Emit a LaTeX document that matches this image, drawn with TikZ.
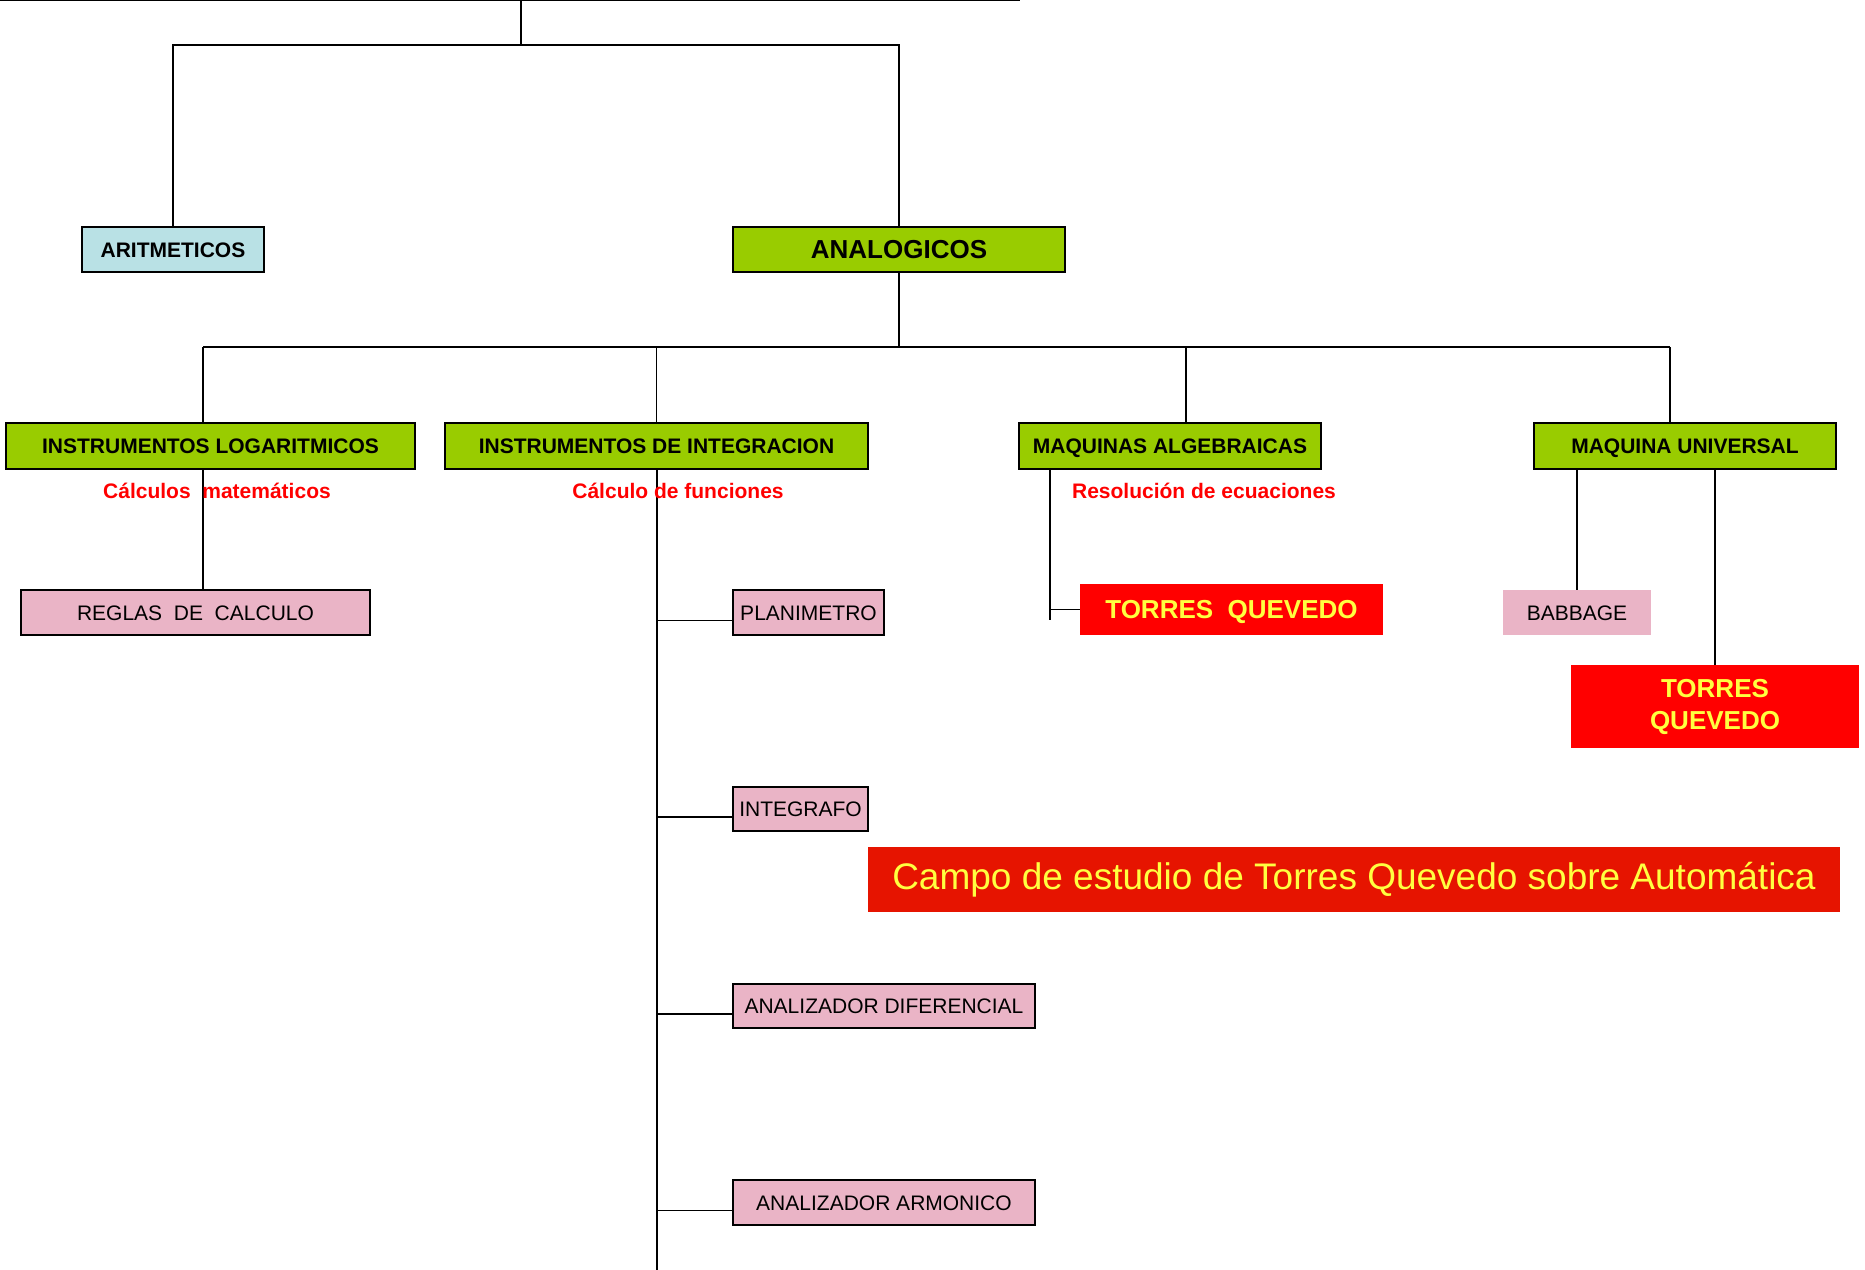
\documentclass[tikz,border=0pt]{standalone}
\usepackage{fontspec}
\setmainfont{Liberation Sans}
\definecolor{lima}{HTML}{99CC00}
\definecolor{celeste}{HTML}{B9E1E5}
\definecolor{rosa}{HTML}{EAB4C6}
\definecolor{rojo}{HTML}{FF0000}
\definecolor{rojocampo}{HTML}{E61400}
\definecolor{amarillo}{HTML}{FFFF40}
\begin{document}
\begin{tikzpicture}[x=0.5pt, y=-0.5pt,
	box/.style={draw, line width=0.8pt, inner sep=0pt, minimum height=22.5pt, text height=7.6pt, text depth=0pt, font=\fontsize{10.5}{12}\selectfont},
	greenbox/.style={box, fill=lima, font=\fontsize{10.5}{12}\selectfont\bfseries},
	pinkbox/.style={box, fill=rosa},
	tqbox/.style={inner sep=0pt, fill=rojo, text=amarillo, align=center, font=\fontsize{13}{16}\selectfont\bfseries},
	note/.style={text=rojo, inner sep=0pt, font=\fontsize{10.5}{12}\selectfont\bfseries},
	link/.style={line width=0.65pt}]
\useasboundingbox (0,0) rectangle (1865,1270);
	\node[box, fill=celeste, minimum width=91pt, font=\fontsize{10.5}{12}\selectfont\bfseries] (arit) at (173,249.5) {ARITMETICOS};
	\node[greenbox, minimum width=166pt, text height=9.4pt, font=\fontsize{13}{15}\selectfont\bfseries] (analog) at (899,249.5) {ANALOGICOS};
	\node[greenbox, minimum width=204.5pt, minimum height=23pt] (instlog) at (210.5,446) {INSTRUMENTOS LOGARITMICOS};
	\node[greenbox, minimum width=211.5pt, minimum height=23pt] (instint) at (656.5,446) {INSTRUMENTOS DE INTEGRACION};
	\node[greenbox, minimum width=151pt, minimum height=23pt] (maqalg) at (1170,446) {MAQUINAS ALGEBRAICAS};
	\node[greenbox, minimum width=151pt, minimum height=23pt] (maquniv) at (1685,446) {MAQUINA UNIVERSAL};
	\node[pinkbox, minimum width=174.5pt] (reglas) at (195.5,612.5) {REGLAS\ \ DE\ \ CALCULO};
	\node[pinkbox, minimum width=75.5pt] (plan) at (808.5,612.5) {PLANIMETRO};
	\node[pinkbox, minimum width=67.5pt, minimum height=22pt] (integ) at (800.5,809) {INTEGRAFO};
	\node[pinkbox, minimum width=151pt, minimum height=22pt] (anadif) at (884,1006) {ANALIZADOR DIFERENCIAL};
	\node[pinkbox, minimum width=151pt] (anaarm) at (884,1202.5) {ANALIZADOR ARMONICO};
	\node[tqbox, minimum width=151.5pt, minimum height=25.5pt, text height=9.4pt, text depth=0pt] (tq1) at (1231.5,609.5) {TORRES\ \ QUEVEDO};
	\node[inner sep=0pt, fill=rosa, minimum width=74pt, minimum height=22.5pt, text height=7.6pt, text depth=0pt, font=\fontsize{10.5}{12}\selectfont] (babbage) at (1577,612.5) {BABBAGE};
	\node[tqbox, minimum width=144pt, minimum height=41.5pt] (tq2) at (1715,706.5) {TORRES\\QUEVEDO};
	\node[inner sep=0pt, fill=rojocampo, text=amarillo, minimum width=486pt, minimum height=32.5pt, font=\fontsize{18.5}{22}\selectfont] (campo) at (1354,879.5) {Campo de estudio de Torres Quevedo sobre Automática};
	% upper levels
	\coordinate (topL) at (0,0);
	\coordinate (topR) at (1020,0);
	\coordinate (topM) at (521,0);
	\coordinate (bus1) at (521,45);
	\draw[link] (topL) -- (topR);
	\draw[link] (topM) -- (bus1);
	\draw[link] (arit.north) |- (bus1) -| (analog.north);
	\coordinate (busL) at (203,347);
	\coordinate (busR) at (1670,347);
	\coordinate (algdrop) at (1186,347);
	\draw[link] (analog.south) -- (analog.south |- busL);
	\draw[link] (busL) -- (busR);
	\draw[link] (busL) -- (busL |- instlog.north);
	\draw[link] (instint.north |- busL) -- (instint.north);
	\draw[link] (algdrop) -- (algdrop |- maqalg.north);
	\draw[link] (busR) -- (busR |- maquniv.north);
	% branches
	\draw[link] (busL |- instlog.south) -- (busL |- reglas.north);
	\coordinate (trunkend) at (657,1270);
	\draw[link] (instint.south -| trunkend) -- (trunkend);
	\foreach \n in {plan,integ,anadif,anaarm}
		\draw[link] ([yshift=-4pt]\n.west) -- ([yshift=-4pt]\n.west -| trunkend);
	\coordinate (algend) at (1050,620);
	\draw[link] (algend |- maqalg.south) -- (algend);
	\draw[link] (tq1.west) -- (tq1.west -| algend);
	\draw[link] (babbage.north |- maquniv.south) -- (babbage.north);
	\draw[link] (tq2.north |- maquniv.south) -- (tq2.north);
	% red notes
	\node[note] (notelog) at (217,491) {Cálculos\ \ matemáticos};
	\node[note] (noteint) at (678,491) {Cálculo de funciones};
	\node[note] (notealg) at (1204,491) {Resolución de ecuaciones};
\end{tikzpicture}
\end{document}
